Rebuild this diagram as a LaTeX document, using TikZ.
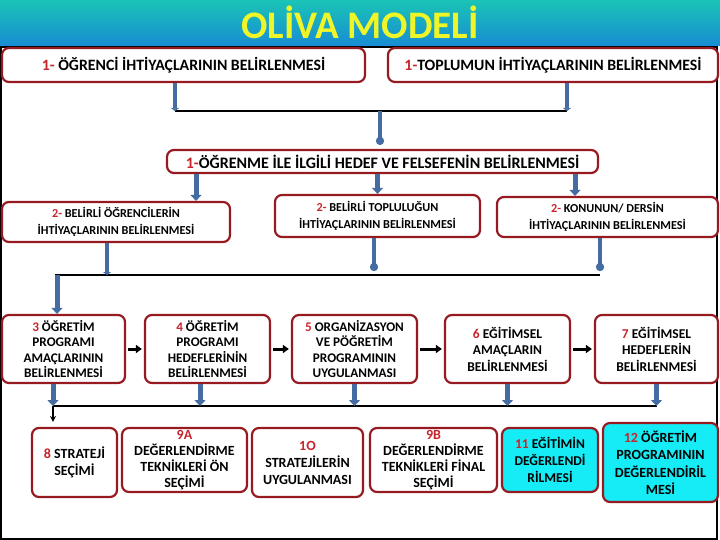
\documentclass[tikz,border=0pt]{standalone}
\usepackage{fontspec}
\setmainfont{Carlito}
\usetikzlibrary{arrows.meta}

\definecolor{boxred}{RGB}{150,26,32}
\definecolor{numred}{RGB}{200,36,44}
\definecolor{barblue}{RGB}{68,108,162}
\definecolor{evalcyan}{RGB}{22,236,246}
\definecolor{titleyellow}{RGB}{238,245,40}
\definecolor{bandtop}{RGB}{26,196,182}
\definecolor{bandmid}{RGB}{30,212,226}
\definecolor{bandbot}{RGB}{24,140,212}
\newcommand{\nr}[1]{\textcolor{numred}{#1}}
\newcommand{\fs}[2]{\fontsize{#1}{#2}\selectfont}

\begin{document}
\begin{tikzpicture}[x=1pt, y=-1pt,
    box/.style={draw=boxred, line width=2.2pt, rounded corners=7pt, fill=white, align=center, inner sep=1pt, font=\bfseries\fs{13.2}{15.5}},
    evalbox/.style={box, fill=evalcyan},
    bar/.style={draw=barblue, line width=4.5pt, -{Triangle[width=8pt,length=3pt]}},
    blockarrow/.style={draw=barblue, line width=5pt, -{Triangle[width=11pt,length=6pt]}},
    dotbar/.style={draw=barblue, line width=4pt, -{Circle[length=8pt,width=8pt]}},
    joinline/.style={line width=2.2pt},
    steparrow/.style={line width=3pt, -{Triangle[width=8pt,length=6pt]}, shorten <=2pt, shorten >=2pt},
    droparrow/.style={line width=1.5pt, -{Stealth[length=6pt,width=6pt]}, shorten >=5pt}
]
\useasboundingbox (0,0) rectangle (720,540);

% Title band and frame
\shade[top color=bandtop, middle color=bandmid, bottom color=bandbot] (0,0) rectangle (720,46);
\node[font=\bfseries\fs{39}{42}, text=titleyellow] (title) at (360,22) {OLİVA MODELİ};
\draw[line width=2pt] (1,47) rectangle (717,538.5);

% First needs
\node[box, minimum width=363pt, minimum height=34pt, font=\bfseries\fs{15.8}{18}] (stud) at (183.5,65) {\nr{1-} ÖĞRENCİ İHTİYAÇLARININ BELİRLENMESİ};
\node[box, minimum width=330pt, minimum height=34pt, font=\bfseries\fs{15.8}{18}] (soc) at (553,65) {\nr{1-}TOPLUMUN İHTİYAÇLARININ BELİRLENMESİ};
\node[box, minimum width=431pt, minimum height=23pt, font=\bfseries\fs{16}{18}] (goal) at (382.5,161.5) {\nr{1-}ÖĞRENME İLE İLGİLİ HEDEF VE FELSEFENİN BELİRLENMESİ};

% Second needs
\node[box, minimum width=228pt, minimum height=40pt, font=\bfseries\fs{12.2}{17}] (learn) at (116,222) {\nr{2-} BELİRLİ ÖĞRENCİLERİN\\İHTİYAÇLARININ BELİRLENMESİ};
\node[box, minimum width=205pt, minimum height=42pt, font=\bfseries\fs{12.2}{17}] (group) at (377.5,216) {\nr{2-} BELİRLİ TOPLULUĞUN\\İHTİYAÇLARININ BELİRLENMESİ};
\node[box, minimum width=221pt, minimum height=40pt, font=\bfseries\fs{12.2}{17}] (subj) at (607.5,217) {\nr{2-} KONUNUN/ DERSİN\\İHTİYAÇLARININ BELİRLENMESİ};

% Programme steps
\node[box, minimum width=123pt, minimum height=68pt] (aims) at (63.5,349) {\nr{3} ÖĞRETİM\\PROGRAMI\\AMAÇLARININ\\BELİRLENMESİ};
\node[box, minimum width=125pt, minimum height=68pt] (objs) at (207.5,349) {\nr{4} ÖĞRETİM\\PROGRAMI\\HEDEFLERİNİN\\BELİRLENMESİ};
\node[box, minimum width=125pt, minimum height=68pt] (org) at (354.5,349) {\nr{5} ORGANİZASYON\\VE PÖĞRETİM\\PROGRAMININ\\UYGULANMASI};
\node[box, minimum width=125pt, minimum height=68pt, font=\bfseries\fs{13.5}{16.5}] (edaims) at (507.5,349) {\nr{6} EĞİTİMSEL\\AMAÇLARIN\\BELİRLENMESİ};
\node[box, minimum width=123pt, minimum height=68pt, font=\bfseries\fs{13.5}{16.5}] (edobjs) at (656.5,349) {\nr{7} EĞİTİMSEL\\HEDEFLERİN\\BELİRLENMESİ};

% Strategies and evaluation
\node[box, minimum width=85pt, minimum height=69pt, font=\bfseries\fs{14}{17.5}] (strat) at (74.5,462.5) {\nr{8} STRATEJİ\\SEÇİMİ};
\node[box, minimum width=125pt, minimum height=64pt, inner sep=0pt, font=\bfseries\fs{14}{16}] (pre) at (184.5,460) {\nr{9A}\\DEĞERLENDİRME\\TEKNİKLERİ ÖN\\SEÇİMİ};
\node[box, minimum width=111pt, minimum height=69pt, font=\bfseries\fs{14}{17}] (apply) at (307.5,462.5) {\nr{1O}\\STRATEJİLERİN\\UYGULANMASI};
\node[box, minimum width=127pt, minimum height=64pt, inner sep=0pt, font=\bfseries\fs{14}{16}] (final) at (433.5,460) {\nr{9B}\\DEĞERLENDİRME\\TEKNİKLERİ FİNAL\\SEÇİMİ};
\node[evalbox, minimum width=96pt, minimum height=64pt, font=\bfseries\fs{13.5}{17}] (edeval) at (550,460) {\nr{11} EĞİTİMİN\\DEĞERLENDİ\\RİLMESİ};
\node[evalbox, minimum width=115pt, minimum height=79pt, font=\bfseries\fs{14}{17.5}] (progeval) at (660.5,462.5) {\nr{12} ÖĞRETİM\\PROGRAMININ\\DEĞERLENDİRİL\\MESİ};

% Junction points
\coordinate (ja1) at (175,111);
\coordinate (ja2) at (567,111);
\coordinate (jam) at (380,111);
\coordinate (kc1) at (196,0);
\coordinate (kc3) at (575,0);
\coordinate (jc1) at (107,275);
\coordinate (jc2) at (374,275);
\coordinate (jc3) at (600,275);
\coordinate (jcl) at (55,275);
\coordinate (jcd) at (57,275);
\coordinate (jd1) at (53,406);
\coordinate (jd2) at (200,406);

% Top join
\draw[joinline] (ja1) -- (ja2);
\draw[bar] (stud.south -| ja1) -- (ja1);
\draw[bar] (soc.south -| ja2) -- (ja2);
\draw[dotbar, shorten >=4pt] (jam) -- (goal.north -| jam);

% Down to the second needs
\draw[blockarrow] (goal.south -| kc1) -- (learn.north -| kc1);
\draw[blockarrow] (goal.south -| group.north) -- (group.north);
\draw[blockarrow] (goal.south -| kc3) -- (subj.north -| kc3);

% Second join
\draw[joinline] (jcl) -- (jc3);
\draw[bar] (learn.south -| jc1) -- (jc1);
\draw[dotbar, shorten >=4pt] (group.south -| jc2) -- (jc2);
\draw[dotbar, shorten >=4pt] (subj.south -| jc3) -- (jc3);
\draw[blockarrow] (jcd) -- (aims.north -| jcd);

% Steps in a row
\draw[steparrow] (aims) -- (objs);
\draw[steparrow] (objs) -- (org);
\draw[steparrow] (org) -- (edaims);
\draw[steparrow] (edaims) -- (edobjs);

% Third join
\draw[joinline] (jd1) -- (edobjs.south |- jd1);
\draw[blockarrow] (aims.south -| jd1) -- (jd1);
\draw[blockarrow] (objs.south -| jd2) -- (jd2);
\draw[blockarrow] (org.south) -- (org.south |- jd1);
\draw[blockarrow] (edaims.south) -- (edaims.south |- jd1);
\draw[blockarrow] (edobjs.south) -- (edobjs.south |- jd1);
\draw[droparrow] (jd1) -- (strat.north -| jd1);

\end{tikzpicture}
\end{document}
